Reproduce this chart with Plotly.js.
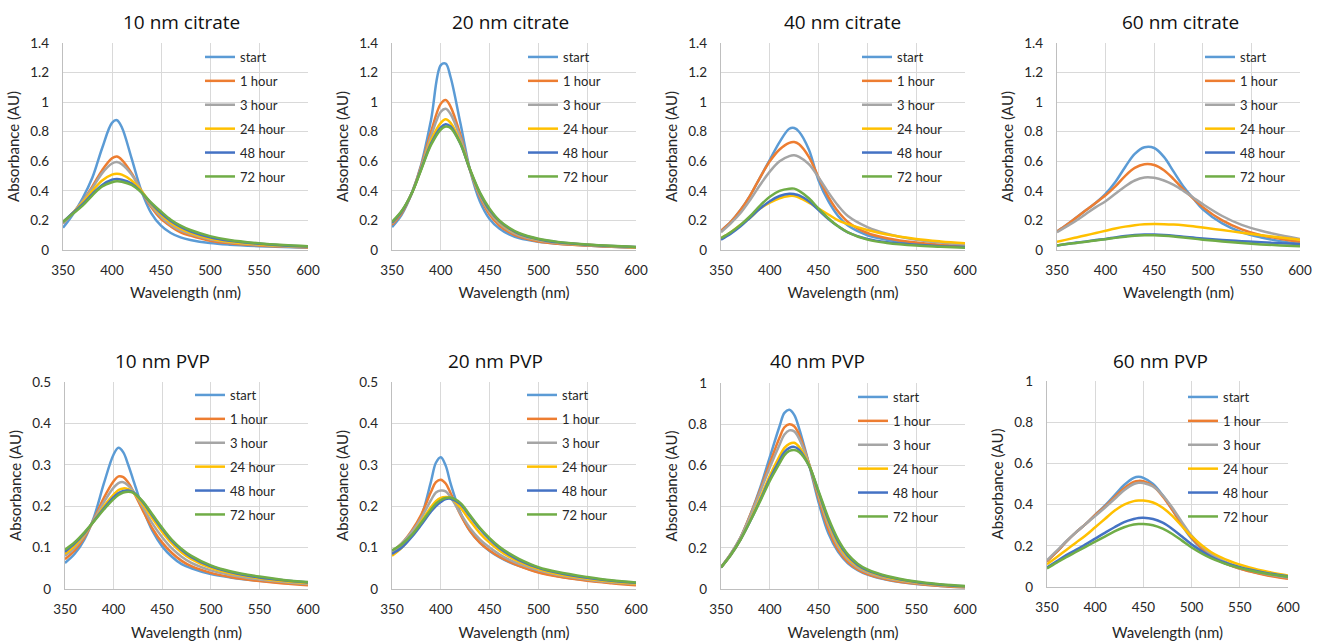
<!DOCTYPE html>
<html><head><meta charset="utf-8">
<script src="https://cdn.plot.ly/plotly-3.0.1.min.js"></script>
<style>html,body{margin:0;padding:0;background:#fff}#chart{width:1320px;height:642px}</style>
</head><body><div id="chart"></div>
<script>
// ---------------- DATA ----------------
const seriesNames = ["start", "1 hour", "3 hour", "24 hour", "48 hour", "72 hour"];
const panelTitles = ["10 nm citrate", "20 nm citrate", "40 nm citrate", "60 nm citrate",
                     "10 nm PVP", "20 nm PVP", "40 nm PVP", "60 nm PVP"];
const xTickLabels = ["350", "400", "450", "500", "550", "600"];

// 10 nm citrate
const wl_cit10 = [350,360,370,380,390,400,405,410,420,430,440,450,460,470,480,500,520,550,575,600];
const abs_cit10 = [
  [0.15,0.24,0.35,0.49,0.69,0.86,0.878,0.83,0.62,0.40,0.25,0.165,0.115,0.085,0.068,0.047,0.036,0.026,0.02,0.015],
  [0.18,0.25,0.33,0.43,0.54,0.62,0.632,0.61,0.52,0.40,0.29,0.21,0.16,0.12,0.097,0.063,0.046,0.031,0.023,0.017],
  [0.18,0.25,0.33,0.42,0.52,0.585,0.595,0.58,0.51,0.40,0.30,0.225,0.17,0.132,0.107,0.072,0.052,0.035,0.026,0.02],
  [0.19,0.25,0.32,0.40,0.47,0.51,0.515,0.51,0.47,0.40,0.31,0.24,0.185,0.145,0.117,0.078,0.056,0.038,0.028,0.021],
  [0.19,0.25,0.31,0.38,0.44,0.475,0.48,0.475,0.45,0.39,0.315,0.25,0.197,0.157,0.127,0.086,0.062,0.042,0.031,0.023],
  [0.19,0.245,0.30,0.37,0.43,0.458,0.465,0.462,0.44,0.39,0.32,0.26,0.205,0.165,0.135,0.094,0.068,0.046,0.034,0.026]
];

// 20 nm citrate
const wl_cit20 = [350,360,370,380,390,400,405,410,420,430,440,450,460,470,480,500,520,550,575,600];
const abs_cit20 = [
  [0.155,0.24,0.38,0.58,0.88,1.25,1.26,1.17,0.86,0.54,0.33,0.21,0.145,0.105,0.08,0.055,0.042,0.03,0.022,0.016],
  [0.17,0.25,0.38,0.57,0.80,0.99,1.015,0.97,0.78,0.54,0.36,0.24,0.165,0.12,0.09,0.058,0.043,0.03,0.022,0.016],
  [0.18,0.26,0.38,0.56,0.77,0.935,0.955,0.92,0.76,0.54,0.37,0.255,0.18,0.13,0.10,0.065,0.047,0.033,0.024,0.018],
  [0.185,0.26,0.38,0.55,0.74,0.86,0.885,0.86,0.73,0.54,0.38,0.265,0.19,0.14,0.107,0.07,0.05,0.035,0.026,0.019],
  [0.185,0.26,0.38,0.55,0.72,0.83,0.85,0.835,0.72,0.54,0.385,0.27,0.195,0.145,0.11,0.073,0.052,0.036,0.027,0.02],
  [0.19,0.265,0.38,0.545,0.71,0.815,0.835,0.825,0.72,0.545,0.39,0.28,0.20,0.15,0.115,0.076,0.055,0.038,0.028,0.021]
];

// 40 nm citrate
const wl_cit40 = [350,360,370,380,390,400,410,420,425,430,440,450,460,470,480,500,520,550,575,600];
const abs_cit40 = [
  [0.13,0.19,0.27,0.37,0.49,0.61,0.73,0.82,0.825,0.80,0.68,0.47,0.33,0.23,0.165,0.10,0.07,0.045,0.03,0.02],
  [0.13,0.19,0.27,0.37,0.49,0.60,0.68,0.725,0.73,0.715,0.63,0.49,0.36,0.26,0.19,0.115,0.08,0.05,0.035,0.025],
  [0.12,0.18,0.25,0.34,0.44,0.53,0.60,0.635,0.64,0.63,0.58,0.49,0.39,0.30,0.23,0.155,0.11,0.07,0.05,0.035],
  [0.08,0.12,0.17,0.22,0.28,0.32,0.35,0.365,0.365,0.355,0.32,0.28,0.24,0.20,0.175,0.135,0.105,0.075,0.058,0.045],
  [0.07,0.11,0.16,0.22,0.28,0.33,0.365,0.38,0.378,0.37,0.33,0.27,0.21,0.16,0.12,0.075,0.052,0.035,0.025,0.02],
  [0.08,0.12,0.17,0.23,0.30,0.36,0.40,0.415,0.415,0.40,0.35,0.28,0.215,0.16,0.12,0.07,0.048,0.03,0.022,0.015]
];

// 60 nm citrate
const wl_cit60 = [350,360,370,380,390,400,410,420,430,440,450,460,470,480,490,500,520,540,560,580,600];
const abs_cit60 = [
  [0.125,0.17,0.22,0.27,0.32,0.38,0.46,0.56,0.65,0.695,0.69,0.63,0.53,0.43,0.35,0.275,0.18,0.12,0.085,0.06,0.04],
  [0.125,0.17,0.22,0.27,0.32,0.37,0.43,0.50,0.555,0.58,0.575,0.54,0.48,0.41,0.35,0.29,0.20,0.14,0.10,0.075,0.055],
  [0.12,0.16,0.20,0.245,0.29,0.33,0.38,0.43,0.47,0.49,0.488,0.47,0.44,0.40,0.355,0.31,0.23,0.17,0.13,0.10,0.075],
  [0.055,0.07,0.085,0.10,0.115,0.13,0.145,0.158,0.168,0.174,0.176,0.175,0.172,0.167,0.16,0.152,0.135,0.117,0.10,0.085,0.07],
  [0.03,0.04,0.05,0.058,0.067,0.075,0.085,0.094,0.101,0.105,0.105,0.102,0.097,0.09,0.084,0.078,0.068,0.06,0.052,0.046,0.04],
  [0.03,0.04,0.048,0.056,0.065,0.073,0.082,0.09,0.097,0.10,0.10,0.097,0.092,0.085,0.077,0.07,0.058,0.047,0.038,0.031,0.025]
];

// 10 nm PVP
const wl_pvp10 = [350,360,370,380,390,400,405,410,415,420,430,440,450,460,470,480,500,520,550,575,600];
const abs_pvp10 = [
  [0.063,0.085,0.12,0.175,0.255,0.325,0.341,0.33,0.30,0.265,0.195,0.14,0.103,0.078,0.06,0.05,0.036,0.028,0.02,0.015,0.011],
  [0.072,0.093,0.125,0.17,0.22,0.26,0.272,0.27,0.257,0.237,0.19,0.146,0.112,0.087,0.068,0.055,0.039,0.029,0.019,0.013,0.009],
  [0.08,0.10,0.13,0.168,0.21,0.245,0.256,0.258,0.25,0.237,0.198,0.158,0.125,0.098,0.078,0.063,0.045,0.034,0.023,0.017,0.012],
  [0.085,0.105,0.133,0.165,0.20,0.228,0.239,0.243,0.241,0.233,0.205,0.17,0.138,0.11,0.088,0.072,0.051,0.038,0.026,0.019,0.014],
  [0.09,0.11,0.135,0.165,0.195,0.222,0.232,0.237,0.238,0.234,0.21,0.177,0.145,0.116,0.094,0.077,0.055,0.041,0.028,0.021,0.016],
  [0.095,0.113,0.137,0.164,0.192,0.217,0.227,0.233,0.235,0.233,0.212,0.18,0.148,0.119,0.097,0.08,0.057,0.043,0.03,0.022,0.017]
];

// 20 nm PVP
const wl_pvp20 = [350,360,370,380,390,395,400,405,410,420,430,440,450,460,470,480,500,520,550,575,600];
const abs_pvp20 = [
  [0.088,0.105,0.13,0.175,0.26,0.305,0.318,0.298,0.255,0.185,0.14,0.112,0.092,0.077,0.065,0.056,0.041,0.031,0.021,0.015,0.011],
  [0.09,0.11,0.14,0.18,0.235,0.258,0.264,0.255,0.232,0.18,0.14,0.112,0.093,0.078,0.066,0.056,0.04,0.03,0.02,0.014,0.009],
  [0.09,0.11,0.137,0.172,0.215,0.233,0.238,0.236,0.222,0.183,0.147,0.12,0.10,0.084,0.071,0.061,0.045,0.034,0.023,0.016,0.012],
  [0.08,0.10,0.128,0.163,0.198,0.212,0.22,0.222,0.22,0.197,0.165,0.135,0.112,0.093,0.078,0.066,0.048,0.036,0.025,0.018,0.013],
  [0.085,0.10,0.125,0.155,0.187,0.20,0.21,0.217,0.218,0.205,0.175,0.145,0.12,0.099,0.083,0.07,0.051,0.039,0.027,0.02,0.015],
  [0.093,0.108,0.13,0.16,0.192,0.206,0.215,0.22,0.221,0.208,0.178,0.148,0.123,0.102,0.086,0.073,0.053,0.041,0.029,0.021,0.016]
];

// 40 nm PVP
const wl_pvp40 = [350,360,370,380,390,400,410,415,420,425,430,440,450,460,470,480,490,500,520,550,575,600];
const abs_pvp40 = [
  [0.105,0.17,0.25,0.36,0.49,0.64,0.79,0.855,0.87,0.845,0.78,0.61,0.42,0.27,0.18,0.125,0.092,0.07,0.045,0.024,0.015,0.008],
  [0.105,0.17,0.25,0.36,0.48,0.61,0.735,0.785,0.80,0.79,0.75,0.61,0.44,0.29,0.19,0.13,0.095,0.072,0.046,0.025,0.015,0.008],
  [0.105,0.17,0.25,0.355,0.47,0.59,0.70,0.75,0.77,0.765,0.73,0.61,0.455,0.31,0.205,0.142,0.104,0.08,0.052,0.029,0.018,0.011],
  [0.105,0.165,0.24,0.335,0.44,0.55,0.645,0.685,0.705,0.71,0.69,0.605,0.465,0.325,0.22,0.152,0.112,0.087,0.057,0.032,0.02,0.012],
  [0.105,0.165,0.24,0.33,0.43,0.535,0.625,0.665,0.685,0.69,0.675,0.60,0.47,0.335,0.23,0.16,0.117,0.09,0.06,0.034,0.021,0.013],
  [0.105,0.165,0.24,0.33,0.425,0.525,0.61,0.65,0.67,0.675,0.665,0.60,0.475,0.345,0.24,0.168,0.123,0.095,0.063,0.036,0.023,0.014]
];

// 60 nm PVP
const wl_pvp60 = [350,360,370,380,390,400,410,420,430,440,445,450,460,470,480,490,500,520,540,560,580,600];
const abs_pvp60 = [
  [0.125,0.17,0.22,0.265,0.305,0.35,0.395,0.445,0.495,0.53,0.535,0.53,0.50,0.445,0.375,0.30,0.235,0.15,0.105,0.077,0.057,0.042],
  [0.125,0.17,0.22,0.265,0.305,0.35,0.39,0.435,0.48,0.51,0.515,0.513,0.49,0.44,0.375,0.305,0.24,0.152,0.105,0.076,0.055,0.04],
  [0.13,0.175,0.222,0.265,0.305,0.345,0.385,0.427,0.47,0.50,0.506,0.505,0.488,0.445,0.385,0.315,0.25,0.16,0.112,0.082,0.061,0.046],
  [0.11,0.145,0.18,0.215,0.25,0.29,0.33,0.37,0.40,0.417,0.42,0.42,0.41,0.385,0.345,0.295,0.245,0.17,0.125,0.095,0.073,0.056],
  [0.095,0.125,0.155,0.18,0.207,0.235,0.263,0.29,0.315,0.33,0.335,0.336,0.33,0.312,0.282,0.245,0.207,0.148,0.11,0.085,0.066,0.052],
  [0.09,0.118,0.145,0.17,0.195,0.22,0.245,0.27,0.29,0.303,0.306,0.306,0.30,0.283,0.257,0.225,0.192,0.14,0.105,0.081,0.063,0.05]
];

const panelX = [wl_cit10, wl_cit20, wl_cit40, wl_cit60, wl_pvp10, wl_pvp20, wl_pvp40, wl_pvp60];
const panelY = [abs_cit10, abs_cit20, abs_cit40, abs_cit60, abs_pvp10, abs_pvp20, abs_pvp40, abs_pvp60];
const yMax = [1.4, 1.4, 1.4, 1.4, 0.5, 0.5, 1, 1];
const yStep = [0.2, 0.2, 0.2, 0.2, 0.1, 0.1, 0.2, 0.2];

// ---------------- STYLE / LAYOUT ----------------
const W = 1320, H = 642;
const colors = ['#5B9BD5', '#ED7D31', '#A5A5A5', '#FFC000', '#4472C4', '#70AD47'];
const FONT = 'Lato, "Open Sans", sans-serif';
const TITLE_FONT = '"Open Sans", Lato, sans-serif';
const TXT = '#262626';
// plot boxes in pixels: [left, right, top, bottom]
const boxes = [
  [63, 308, 43, 250], [392, 636, 43, 250], [721, 965, 43, 250], [1057, 1300, 43, 250],
  [65, 308, 382, 589], [392, 636, 382, 589], [721, 965, 383, 589], [1047, 1288, 381, 587]
];
// legend origin (px) : [left, top]
const legPos = [
  [200, 42], [523, 42], [857, 42], [1200, 42],
  [190, 380], [522, 380], [853, 382], [1183, 382]
];
// title centers (px)
const titlePos = [[181, 22], [510, 22], [842, 22], [1180, 22], [162, 361], [496, 361], [817, 361], [1160, 361]];
const xTitleStandoff = [10, 10, 10, 10, 11, 11, 11, 13];

const traces = [];
const layout = {
  width: W, height: H,
  margin: {l: 0, r: 0, t: 0, b: 0},
  paper_bgcolor: '#fff', plot_bgcolor: '#fff',
  font: {family: FONT, color: TXT, size: 13},
  showlegend: true,
  annotations: []
};

for (let p = 0; p < 8; p++) {
  const idx = p === 0 ? '' : String(p + 1);
  const xa = 'x' + idx, ya = 'y' + idx;
  const leg = 'legend' + idx;
  const b = boxes[p];
  for (let s = 0; s < seriesNames.length; s++) {
    traces.push({
      type: 'scatter', mode: 'lines',
      x: panelX[p], y: panelY[p][s],
      name: seriesNames[s],
      xaxis: xa, yaxis: ya,
      legend: leg,
      legendgroup: 'g' + p + '_' + s,
      line: {color: colors[s], width: 2.5, shape: 'spline', smoothing: 1},
      hoverinfo: 'x+y+name'
    });
  }
  layout['xaxis' + idx] = {
    domain: [b[0] / W, b[1] / W],
    anchor: ya,
    range: [350, 600],
    tickmode: 'array',
    tickvals: xTickLabels.map(Number),
    ticktext: xTickLabels,
    showgrid: true, gridcolor: '#d9d9d9', gridwidth: 1,
    zeroline: false,
    showline: true, linecolor: '#bfbfbf', linewidth: 1.3,
    ticks: '', ticklabelstandoff: 8,
    tickfont: {family: FONT, size: 13.5, color: TXT},
    title: {text: 'Wavelength (nm)', font: {family: FONT, size: 15, color: TXT, weight: 'normal'}, standoff: xTitleStandoff[p]},
    automargin: false, fixedrange: true
  };
  layout['yaxis' + idx] = {
    domain: [1 - b[3] / H, 1 - b[2] / H],
    anchor: xa,
    range: [0, yMax[p]],
    dtick: yStep[p], tick0: 0,
    showgrid: true, gridcolor: '#d9d9d9', gridwidth: 1,
    zeroline: false,
    showline: true, linecolor: '#bfbfbf', linewidth: 1.3,
    ticks: '', ticklabelstandoff: 10,
    tickfont: {family: FONT, size: 13.5, color: TXT},
    title: {text: 'Absorbance (AU)', font: {family: FONT, size: 15, color: TXT, weight: 'normal'}, standoff: 7},
    automargin: false, fixedrange: true
  };
  layout[leg] = {
    x: legPos[p][0] / W, y: 1 - legPos[p][1] / H,
    xanchor: 'left', yanchor: 'top',
    bgcolor: 'rgba(0,0,0,0)', borderwidth: 0,
    font: {family: FONT, size: 13, color: TXT},
    traceorder: 'grouped', tracegroupgap: 4,
    itemclick: false, itemdoubleclick: false
  };
  layout.annotations.push({
    text: panelTitles[p], xref: 'paper', yref: 'paper',
    x: titlePos[p][0] / W, y: 1 - titlePos[p][1] / H,
    xanchor: 'center', yanchor: 'middle', showarrow: false,
    font: {family: TITLE_FONT, size: 19, color: '#111111', weight: 400}
  });
}

Plotly.newPlot('chart', traces, layout, {displayModeBar: false, staticPlot: false});
</script>
</body></html>
